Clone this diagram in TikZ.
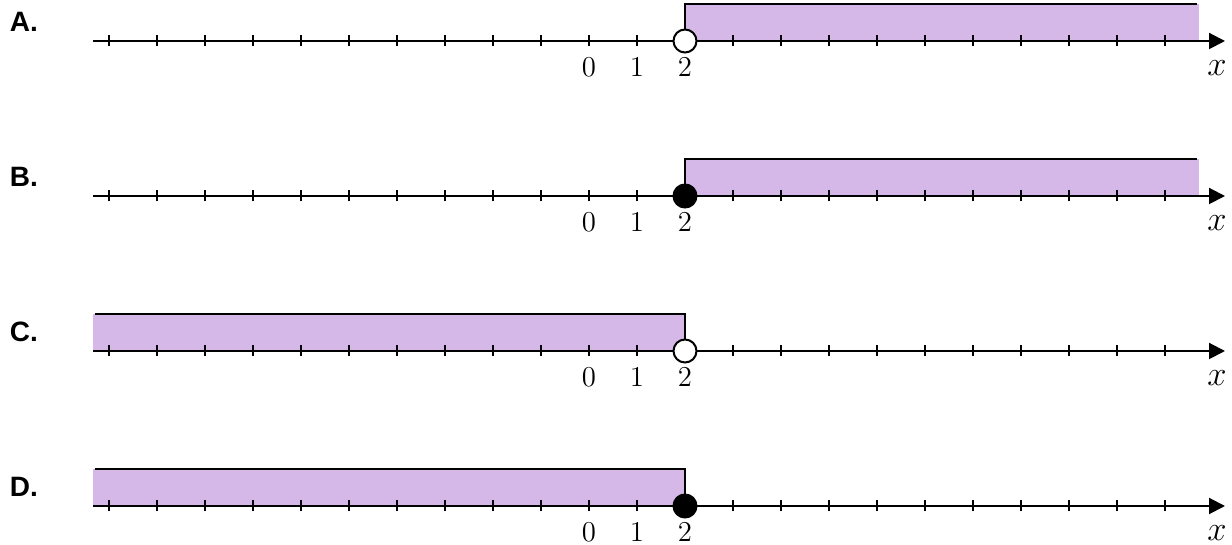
\documentclass[tikz,border=0pt]{standalone}
\usepackage{fontspec}
\newfontfamily\letterfont{Liberation Sans}
\usetikzlibrary{arrows.meta}
\definecolor{regionfill}{RGB}{213,184,232}

\begin{document}
\begin{tikzpicture}[x=0.5pt,y=0.5pt,line width=1pt]
        \useasboundingbox (0,0) rectangle (1232,545);

        \foreach \name/\y/\xa/\xb/\xt/\dot in {A/504/685/1199/1197/white, B/349/685/1199/1197/black, C/194/93/685/95/white, D/39/93/685/95/black} {
                \node (lbl\name) at (24,\y+19) {\fontsize{14}{16}\letterfont\bfseries \name.};
                \fill [regionfill] (\xa,\y) rectangle (\xb,\y+37);
                \draw [draw=black] (\xt,\y+37) -- (685,\y+37) -- (685,\y);
                \draw [draw=black, -{Triangle[length=8pt,width=8pt]}] (93,\y) -- (1225,\y);
                \foreach \t in {-10,...,12} {
                        \draw [draw=black] (589+48*\t,\y-5.5) -- (589+48*\t,\y+5.5);
                }
                \foreach \t in {0,...,2} {
                        \node (num\name\t) at (589+48*\t,\y-26) {\fontsize{15}{18}\selectfont $\t$};
                }
                \node (var\name) [inner sep=0pt] at (1217,\y-27) {\fontsize{16}{18}\selectfont $x$};
                \node (dot\name) [circle, draw=black, fill=\dot, minimum size=11.5pt, inner sep=0pt] at (685,\y) {};
        }

\end{tikzpicture}
\end{document}
